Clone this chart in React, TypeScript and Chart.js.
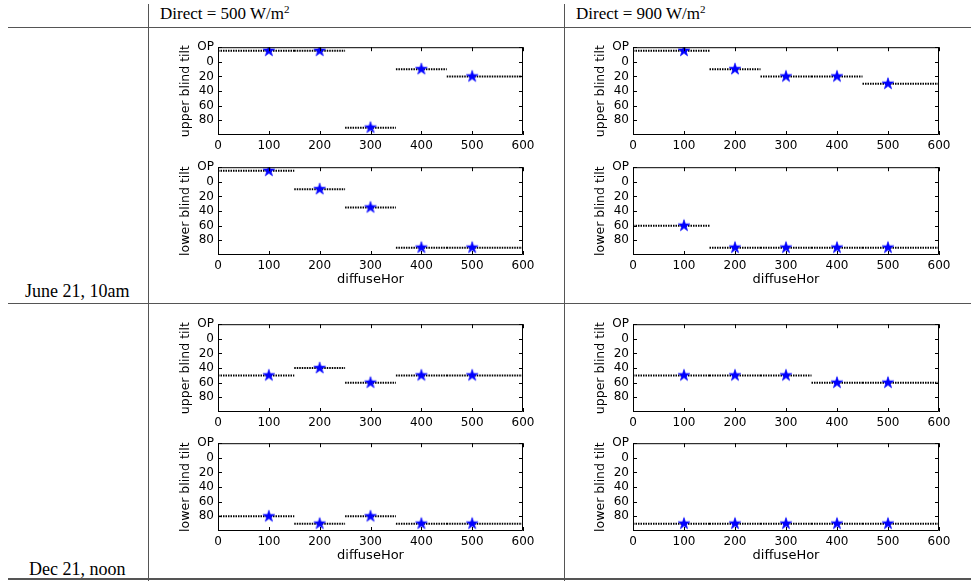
import React, { useEffect, useRef } from 'react';
import { Chart, registerables } from 'chart.js';

Chart.register(...registerables);

// diffuse horizontal irradiance samples and the step edges around them
const diffuseHor = [100, 200, 300, 400, 500];
const stepEdges = [0, 150, 250, 350, 450, 600];

// "OP" = blind pulled up (open); drawn just below the top of the tilt axis
const OP = -15;
const tiltTicks = [-20, 0, 20, 40, 60, 80];
const xTicks = [0, 100, 200, 300, 400, 500, 600];

// optimal blind tilts (degrees) per diffuse level
const juneUpper500 = [OP, OP, 90, 10, 20];
const juneLower500 = [OP, 10, 35, 90, 90];
const juneUpper900 = [OP, 10, 20, 20, 30];
const juneLower900 = [60, 90, 90, 90, 90];
const decUpper500 = [50, 40, 60, 50, 50];
const decLower500 = [80, 90, 80, 90, 90];
const decUpper900 = [50, 50, 50, 60, 60];
const decLower900 = [90, 90, 90, 90, 90];

const columnHeaders = ['500', '900'];
const rowLabels = ['June 21, 10am', 'Dec 21, noon'];

// plot-area placement on the page
const colLeft = [218, 633];
const colWidth = [305, 306];
const rowTop = [46, 166, 323, 442];
const plotHeight = 89;

const PAD_L = 56;
const PAD_T = 10;
const PAD_R = 18;

const panels = [
  { values: juneUpper500, title: 'upper blind tilt', col: 0, row: 0, xTitle: false },
  { values: juneLower500, title: 'lower blind tilt', col: 0, row: 1, xTitle: true },
  { values: juneUpper900, title: 'upper blind tilt', col: 1, row: 0, xTitle: false },
  { values: juneLower900, title: 'lower blind tilt', col: 1, row: 1, xTitle: true },
  { values: decUpper500, title: 'upper blind tilt', col: 0, row: 2, xTitle: false },
  { values: decLower500, title: 'lower blind tilt', col: 0, row: 3, xTitle: true },
  { values: decUpper900, title: 'upper blind tilt', col: 1, row: 2, xTitle: false },
  { values: decLower900, title: 'lower blind tilt', col: 1, row: 3, xTitle: true },
];

function makeStar(): HTMLCanvasElement {
  const size = 16;
  const c = document.createElement('canvas');
  c.width = size;
  c.height = size;
  const g = c.getContext('2d')!;
  const R = 6.2;
  const r = R * 0.382;
  const cx = size / 2;
  const cy = size / 2;
  g.beginPath();
  for (let i = 0; i < 10; i++) {
    const rad = i % 2 === 0 ? R : r;
    const a = -Math.PI / 2 + (i * Math.PI) / 5;
    const px = cx + rad * Math.cos(a);
    const py = cy + rad * Math.sin(a);
    if (i === 0) g.moveTo(px, py);
    else g.lineTo(px, py);
  }
  g.closePath();
  g.fillStyle = '#0000ff';
  g.fill();
  g.strokeStyle = '#0000ff';
  g.lineWidth = 0.6;
  g.stroke();
  return c;
}

// closed box with inward tick marks on all four sides
const framePlugin = {
  id: 'frame',
  afterDatasetsDraw(chart: any) {
    const { ctx, chartArea, scales } = chart;
    const { left, top, right, bottom } = chartArea;
    const tl = 4;
    ctx.save();
    ctx.strokeStyle = '#000';
    ctx.lineWidth = 1;
    ctx.beginPath();
    ctx.rect(left + 0.5, top + 0.5, right - left - 1, bottom - top - 1);
    ctx.stroke();
    ctx.beginPath();
    for (const t of scales.x.ticks) {
      const px = Math.round(scales.x.getPixelForValue(t.value)) + 0.5;
      ctx.moveTo(px, bottom);
      ctx.lineTo(px, bottom - tl);
      ctx.moveTo(px, top);
      ctx.lineTo(px, top + tl);
    }
    for (const t of scales.y.ticks) {
      const py = Math.round(scales.y.getPixelForValue(t.value)) + 0.5;
      ctx.moveTo(left, py);
      ctx.lineTo(left + tl, py);
      ctx.moveTo(right, py);
      ctx.lineTo(right - tl, py);
    }
    ctx.stroke();
    ctx.restore();
  },
};

function TiltPanel(props: { values: number[]; title: string; xTitle: boolean; left: number; top: number; width: number; height: number }) {
  const { values, title, xTitle, left, top, width, height } = props;
  const ref = useRef<HTMLCanvasElement>(null);
  const padB = xTitle ? 40 : 20;
  const cw = PAD_L + width + PAD_R;
  const ch = PAD_T + height + padB;

  useEffect(() => {
    const canvas = ref.current;
    if (!canvas) return;
    const stars = diffuseHor.map((x, i) => ({ x, y: values[i] }));
    const steps: { x: number; y: number | null }[] = [];
    values.forEach((v, i) => {
      steps.push({ x: stepEdges[i], y: v });
      steps.push({ x: stepEdges[i + 1], y: v });
      steps.push({ x: stepEdges[i + 1], y: null });
    });
    const tickFont = { family: '"DejaVu Sans", sans-serif', size: 12 };
    const chart = new Chart(canvas, {
      type: 'scatter',
      data: {
        datasets: [
          {
            data: stars,
            pointStyle: makeStar(),
            pointRadius: 6,
            showLine: false,
            order: 0,
          },
          {
            data: steps as any,
            showLine: true,
            spanGaps: false,
            borderColor: '#000',
            borderWidth: 2,
            borderDash: [1.5, 1],
            pointRadius: 0,
            order: 1,
          },
        ],
      },
      options: {
        animation: false,
        responsive: false,
        devicePixelRatio: 1,
        events: [],
        layout: { padding: { top: PAD_T, right: PAD_R, left: 0, bottom: 0 } },
        plugins: { legend: { display: false }, tooltip: { enabled: false } },
        scales: {
          x: {
            type: 'linear',
            min: 0,
            max: 600,
            grid: { display: false, drawTicks: false },
            border: { display: false },
            afterBuildTicks: (s: any) => {
              s.ticks = xTicks.map((v) => ({ value: v }));
            },
            ticks: { maxRotation: 0, padding: 4, color: '#000', font: tickFont, autoSkip: false },
            title: {
              display: xTitle,
              text: 'diffuseHor',
              color: '#000',
              font: { family: '"DejaVu Sans", sans-serif', size: 13 },
              padding: { top: 0, bottom: 8 },
            },
            afterFit: (s: any) => {
              s.height = padB;
            },
          },
          y: {
            type: 'linear',
            reverse: true,
            min: -20,
            max: 100,
            grid: { display: false, drawTicks: false },
            border: { display: false },
            afterBuildTicks: (s: any) => {
              s.ticks = tiltTicks.map((v) => ({ value: v }));
            },
            ticks: {
              padding: 4,
              color: '#000',
              font: tickFont,
              autoSkip: false,
              callback: (v: any) => (v === -20 ? 'OP' : String(v)),
            },
            title: {
              display: true,
              text: title,
              color: '#000',
              font: { family: '"DejaVu Sans", sans-serif', size: 12.5 },
              padding: { top: 16.5, bottom: 0 },
            },
            afterFit: (s: any) => {
              s.width = PAD_L;
            },
          },
        },
      },
      plugins: [framePlugin],
    } as any);
    return () => chart.destroy();
  }, [values, title, xTitle, width, height, padB]);

  return (
    <canvas
      ref={ref}
      width={cw}
      height={ch}
      style={{ position: 'absolute', left: left - PAD_L, top: top - PAD_T, width: cw, height: ch }}
    />
  );
}

const lineColor = '#555';

export default function App() {
  return (
    <div
      style={{
        position: 'absolute',
        left: 0,
        top: 0,
        width: 971,
        height: 581,
        background: '#fff',
        overflow: 'hidden',
        fontFamily: '"Liberation Serif", "Times New Roman", serif',
        color: '#000',
      }}
    >
      {/* table rules */}
      <div style={{ position: 'absolute', left: 148, top: 4, width: 1, height: 577, background: lineColor }} />
      <div style={{ position: 'absolute', left: 564, top: 4, width: 1, height: 577, background: lineColor }} />
      <div style={{ position: 'absolute', left: 8, top: 27, width: 963, height: 1, background: lineColor }} />
      <div style={{ position: 'absolute', left: 8, top: 303, width: 963, height: 1, background: lineColor }} />
      <div style={{ position: 'absolute', left: 8, top: 578, width: 963, height: 2, background: lineColor }} />

      {columnHeaders.map((d, i) => (
        <div
          key={d}
          style={{ position: 'absolute', left: i === 0 ? 160 : 576, top: 4, fontSize: 17, lineHeight: '20px', whiteSpace: 'nowrap' }}
        >
          Direct = {d} W/m<sup style={{ fontSize: 11, verticalAlign: 6, lineHeight: 0 }}>2</sup>
        </div>
      ))}
      {rowLabels.map((t, i) => (
        <div
          key={t}
          style={{
            position: 'absolute',
            left: i === 0 ? 25 : 29,
            top: i === 0 ? 281 : 559,
            fontSize: 18,
            lineHeight: '20px',
            whiteSpace: 'nowrap',
          }}
        >
          {t}
        </div>
      ))}

      {panels.map((p, i) => (
        <TiltPanel
          key={i}
          values={p.values}
          title={p.title}
          xTitle={p.xTitle}
          left={colLeft[p.col]}
          top={rowTop[p.row]}
          width={colWidth[p.col]}
          height={plotHeight}
        />
      ))}
    </div>
  );
}
